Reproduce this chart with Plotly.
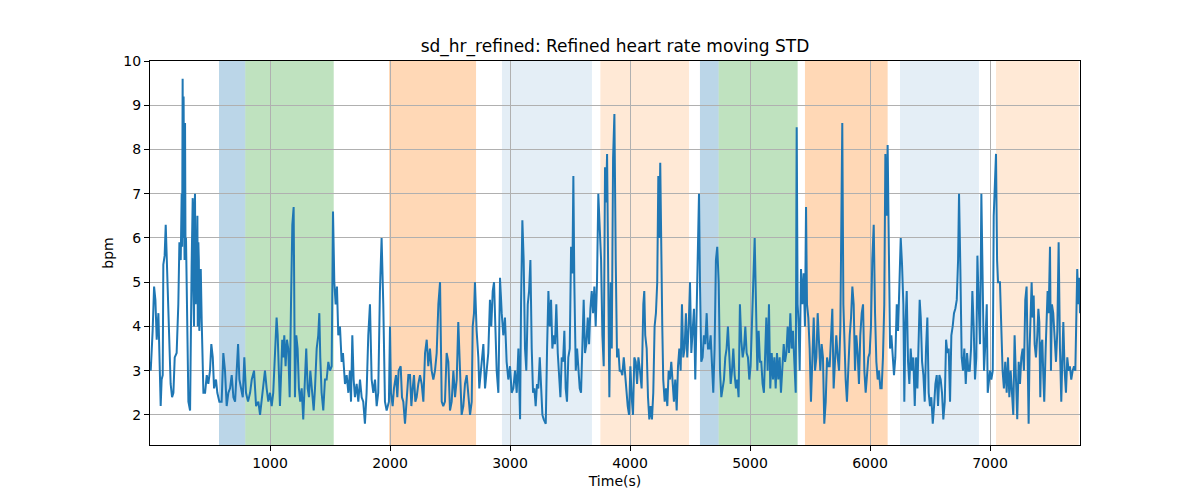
import plotly.graph_objects as go

# ---- data (time in s, moving STD in bpm) ----
time_a = [0,6,22,34,45,56,70,78,89,97,106,111,122,131,139,150,161,172,184,195,206,222,236,245,256,264,268,272,276,280,284,288,292,296,300,320,334,347,356,360,367,370,375,380,389,395,398,403,407,411,423,431,445,459,473,486,500,511,523,534,550,561,578,597,611,625,639,653,667,681,695,709,723,734,745,756,773,786,800,817,834,848,867,884,903,917,931,950]
sd_a = [3.2,3.0,3.9,4.9,4.6,3.7,4.3,3.0,2.2,2.8,2.9,5.4,5.6,6.3,5.6,4.5,3.9,2.7,2.4,2.5,3.3,3.4,4.5,5.9,5.5,7.0,5.8,9.6,6.0,9.2,6.9,5.5,8.6,5.6,6.0,2.3,2.1,5.4,6.9,5.0,4.0,6.5,7.0,4.5,5.3,6.5,4.0,5.9,5.5,3.9,5.3,4.1,2.5,2.5,2.9,2.7,3.0,3.6,3.3,2.6,2.8,2.5,2.3,2.3,3.4,3.0,2.2,2.5,2.6,2.9,2.4,2.3,3.2,3.6,2.8,2.6,2.4,3.3,2.5,2.3,2.5,2.8,3.0,2.2,2.3,2.0,2.4,2.9]

time_b = [958,972,986,1000,1014,1027,1041,1055,1064,1075,1083,1091,1102,1111,1119,1130,1141,1152,1164,1175,1186,1197,1208,1219,1230,1241,1252,1264,1277,1291,1302,1314,1325,1336,1347,1364,1375,1389,1402,1411,1419,1430,1444,1458,1472,1486,1500,1514,1525,1536,1547,1558,1569,1583,1597,1608,1625,1639,1653,1666,1675,1686,1697,1708,1722,1736,1750,1764,1777,1791,1805,1819,1833,1847,1861,1875,1889,1902,1916,1930,1944,1958,1972,1991]
sd_b = [3.0,2.6,2.3,2.5,2.2,2.5,3.2,4.2,3.8,2.6,2.2,2.8,3.7,3.3,3.8,3.1,3.7,3.5,2.4,4.5,6.3,6.7,2.4,3.8,3.5,2.6,2.3,2.6,1.9,2.8,3.5,2.6,2.4,3.0,2.6,2.1,2.6,3.5,3.8,4.3,3.3,2.5,2.1,2.8,2.8,3.2,3.0,3.1,6.6,5.0,4.5,4.9,3.8,4.0,3.2,3.4,2.7,2.9,2.5,3.0,2.3,3.8,2.8,2.4,2.7,2.3,2.8,2.4,2.3,1.8,2.5,3.8,4.5,2.8,2.5,2.8,2.2,2.5,4.8,6.0,4.5,2.3,2.1,2.3]

time_c = [2000,2008,2022,2033,2050,2061,2072,2089,2100,2111,2125,2139,2153,2167,2178,2189,2200,2211,2222,2236,2250,2264,2278,2292,2306,2319,2333,2347,2361,2375,2389,2403,2417,2431,2444,2458,2472,2486,2500,2514,2528,2542,2556,2569,2583,2597,2611,2625,2639,2653,2667,2681,2689,2700,2708,2722,2736,2744,2756,2767,2778,2792,2806,2819,2833,2844,2856,2867,2878,2889,2903,2917,2931,2944,2958,2972,2986,3000,3014,3028]
sd_c = [4.0,2.5,2.2,2.6,2.9,2.4,3.0,3.1,2.4,2.3,1.8,2.4,2.9,2.9,2.2,2.6,2.9,2.3,2.4,2.7,2.9,2.7,2.3,3.4,3.7,3.1,3.5,3.0,2.8,3.0,3.4,4.5,5.0,2.3,2.2,2.3,3.4,3.2,2.1,2.3,3.0,2.4,2.8,4.1,2.8,2.0,2.2,2.7,2.9,2.5,2.0,2.3,4.0,4.3,5.0,3.9,3.3,2.6,3.0,3.2,3.6,2.6,3.0,3.4,4.6,4.0,4.8,5.0,4.0,3.0,2.5,5.1,4.3,3.8,4.2,3.2,2.8,3.1,2.5,2.6]

time_d = [3042,3056,3070,3084,3092,3103,3114,3125,3136,3148,3159,3170,3181,3192,3203,3214,3225,3236,3248,3259,3270,3281,3298,3309,3320,3331,3342,3353,3364,3375,3386,3398,3409,3420,3431,3442,3453,3464,3475,3486,3498,3509,3520,3528,3536,3548,3559,3570,3581,3592,3603,3614,3625,3636,3648,3659,3670,3681,3692,3703,3714,3725,3736,3748,3759,3770,3781,3792,3800,3809,3820,3828,3839,3848,3859,3870,3881,3892,3903,3914,3925,3936,3948,3959,3970,3981,3992,4003,4014,4025,4036,4048,4059,4070]
sd_d = [3.0,2.5,3.5,1.9,4.5,6.4,5.5,3.5,3.0,4.5,4.8,5.5,3.5,2.5,2.6,2.2,2.7,2.6,3.3,2.5,2.0,1.9,1.8,3.5,4.8,4.0,4.6,3.5,3.8,3.6,4.5,3.4,3.0,2.4,3.3,3.2,3.9,2.6,2.3,3.3,3.5,5.8,5.2,7.4,5.0,3.0,3.5,3.1,2.6,2.5,3.4,4.6,3.4,3.6,4.2,3.6,4.4,4.8,4.3,4.9,4.0,5.0,7.0,6.0,5.5,3.8,3.1,7.6,6.8,7.9,4.3,2.4,5.0,3.5,7.8,8.8,5.5,3.3,3.5,3.0,3.0,2.9,3.3,2.9,2.6,2.2,2.0,3.1,2.4,2.0,3.3,3.2,2.7,3.3]

time_e = [4083,4097,4111,4119,4127,4139,4150,4161,4172,4183,4194,4205,4216,4227,4236,4244,4252,4261,4269,4277,4289,4300,4311,4322,4333,4344,4355,4366,4377,4389,4400,4411,4422,4433,4444,4455,4466,4477,4489,4500,4511,4522,4533,4544,4555,4566,4575,4583,4594,4605,4616,4627,4639,4650,4661,4672,4683,4694,4705,4716,4727,4739,4750,4761,4772,4783,4794,4805,4816,4827,4839,4850,4861,4872,4883,4894,4905,4916,4927,4939,4950,4961,4972,4983,4994,5005,5016,5027,5039,5050,5061,5072,5083,5094,5105,5116]
sd_e = [3.0,2.6,4.5,4.8,3.8,3.5,2.4,1.9,2.2,1.9,2.5,4.0,4.3,5.0,7.4,6.0,7.7,5.0,4.0,2.8,2.3,2.6,2.2,3.0,2.8,3.2,2.7,2.3,2.8,2.1,3.1,3.5,3.0,4.5,3.3,3.5,4.3,3.3,4.0,5.0,3.4,3.8,4.4,2.8,4.5,5.7,7.0,5.0,3.2,3.3,3.8,3.6,4.3,3.5,3.5,3.8,3.0,2.5,3.5,5.5,5.8,5.0,3.0,2.4,2.6,2.8,3.3,3.5,4.0,3.2,2.7,3.0,3.5,2.9,2.6,2.8,2.4,4.5,3.7,3.3,3.5,4.0,3.4,3.3,2.8,3.1,4.0,4.8,6.0,4.5,3.0,3.9,3.2,3.2,2.7,2.5]

time_f = [5125,5136,5147,5158,5169,5181,5192,5203,5214,5225,5236,5247,5258,5269,5281,5292,5303,5314,5325,5336,5347,5358,5369,5381,5389,5397,5406,5414,5425,5436,5447,5458,5467,5475,5486,5497,5508,5519,5531,5542,5553,5564,5575,5586,5597,5608,5619,5631,5642,5653,5664,5675,5686,5697,5708,5719,5731,5742,5753,5761,5769,5778,5786,5797,5808,5819,5831,5842,5853,5864,5875,5886,5897,5908,5919,5931,5942,5953,5964,5975,5986,5997,6008,6019,6031,6042,6053,6064,6075,6086,6097,6108,6119,6128,6139,6147,6158]
sd_f = [3.5,4.2,3.0,4.5,2.6,3.4,2.8,3.3,2.6,3.4,2.8,3.3,2.5,3.0,3.6,3.2,3.4,4.0,3.4,4.3,3.5,3.9,3.2,2.5,8.5,4.5,4.0,3.0,5.3,4.5,5.2,4.0,6.7,4.5,4.2,3.5,2.3,3.3,4.2,3.0,3.3,4.3,3.5,3.0,3.6,3.3,1.8,2.3,3.3,3.1,3.1,3.7,4.4,2.6,3.4,3.8,3.3,3.0,4.0,5.8,8.6,4.5,3.5,2.8,2.3,3.2,3.8,4.2,4.9,4.5,3.0,3.8,3.4,2.7,3.8,4.3,4.5,3.0,2.5,2.9,3.3,3.4,4.0,5.5,6.3,4.3,3.2,2.8,3.0,2.6,2.6,3.3,4.5,7.9,6.5,8.1,5.0]

time_g = [6167,6178,6189,6200,6211,6223,6234,6245,6256,6267,6278,6286,6295,6306,6317,6328,6339,6350,6361,6373,6384,6395,6406,6414,6423,6434,6445,6456,6467,6478,6489,6500,6511,6523,6534,6545,6556,6567,6578,6589,6600,6611,6623,6634,6645,6656,6667,6678,6689,6700,6711,6723,6734,6742,6753,6764,6775,6786,6798,6809,6820,6831,6842,6853,6864,6875,6886,6895,6906,6917,6928,6939,6950,6961,6973,6981,6989,7000,7011,7023,7031,7042,7050,7059,7067]
sd_g = [3.5,3.8,3.2,2.9,3.3,4.5,3.9,5.2,6.0,5.4,4.5,2.3,4.0,4.8,3.2,2.7,3.5,3.0,3.3,2.2,3.3,2.6,4.0,4.6,4.2,3.2,2.9,2.3,3.5,4.2,2.5,2.2,2.4,1.8,2.2,2.7,2.9,2.2,2.9,2.8,2.5,1.9,2.3,3.7,3.4,3.5,2.3,3.8,4.0,4.3,4.4,4.6,5.5,7.0,5.3,3.3,3.0,3.5,2.7,3.4,3.0,3.0,3.5,4.8,4.0,2.8,3.3,5.6,4.5,3.6,7.0,5.0,3.0,3.6,4.5,2.5,2.8,3.0,2.8,3.0,6.5,7.6,7.9,5.5,5.0]

time_h = [7083,7094,7105,7116,7127,7139,7150,7161,7172,7183,7194,7205,7216,7227,7239,7250,7261,7272,7283,7294,7305,7316,7322,7330,7339,7347,7355,7364,7372,7383,7394,7403,7411,7419,7427,7436,7444,7452,7464,7472,7480,7489,7500,7508,7516,7527,7539,7550,7561,7572,7583,7594,7603,7611,7622,7633,7644,7655,7666,7677,7689,7700,7711,7719,7727,7736,7744,7750]
sd_h = [5.0,4.0,3.0,2.6,3.2,2.5,3.3,2.4,3.0,2.5,2.0,3.8,2.5,1.9,3.2,2.7,3.3,3.5,3.0,4.6,4.9,2.3,1.8,3.5,4.2,5.0,4.2,4.7,3.6,3.3,3.8,4.4,4.1,2.4,3.6,3.7,2.9,2.3,3.5,4.0,4.8,4.3,5.8,3.0,4.5,4.3,3.7,3.2,3.9,5.9,3.5,2.3,3.3,4.1,3.0,2.5,3.3,3.0,3.1,2.8,3.0,3.1,3.0,4.0,5.3,4.5,5.1,4.3]

# shaded phases
span_starts = [575, 794, 1992, 2933, 3753, 4583, 4739, 5458, 6250, 7050]
span_ends = [794, 1531, 2717, 3683, 4492, 4739, 5397, 6147, 6908, 7740]
span_colors = ["rgba(31,119,180,0.3)", "rgba(44,160,44,0.3)", "rgba(255,127,14,0.3)",
               "rgba(31,119,180,0.12)", "rgba(255,127,14,0.17)",
               "rgba(31,119,180,0.3)", "rgba(44,160,44,0.3)", "rgba(255,127,14,0.3)",
               "rgba(31,119,180,0.12)", "rgba(255,127,14,0.17)"]

x_ticks = [1000, 2000, 3000, 4000, 5000, 6000, 7000]
y_ticks = [2, 3, 4, 5, 6, 7, 8, 9, 10]

time_s = time_a + time_b + time_c + time_d + time_e + time_f + time_g + time_h
sd_hr = sd_a + sd_b + sd_c + sd_d + sd_e + sd_f + sd_g + sd_h
assert len(time_s) == len(sd_hr)

fig = go.Figure()
fig.add_trace(go.Scatter(x=time_s, y=sd_hr, mode="lines",
                         line=dict(color="#1f77b4", width=2), showlegend=False))

for s, e, c in zip(span_starts, span_ends, span_colors):
    fig.add_vrect(x0=s, x1=e, fillcolor=c, line_width=0, layer="below")

font = "DejaVu Sans, Arial, sans-serif"
fig.update_layout(
    width=1184, height=484,
    margin=dict(l=142, r=112, t=53, b=47),
    paper_bgcolor="white", plot_bgcolor="white",
    font=dict(family=font, size=14, color="black"),
    title=dict(text="sd_hr_refined: Refined heart rate moving STD", xref="paper", x=0.5, xanchor="center",
               y=0.921, yanchor="middle", font=dict(size=17)),
)
fig.update_xaxes(range=[0, 7750], tickvals=x_ticks, showgrid=True, gridcolor="#b0b0b0", gridwidth=1,
                 showline=True, linecolor="black", linewidth=1, mirror=True, automargin=False,
                 ticks="outside", ticklen=5, tickcolor="black", zeroline=False,
                 title=dict(text="Time(s)", standoff=6, font=dict(size=14)))
fig.update_yaxes(range=[1.32, 10.0], tickvals=y_ticks, showgrid=True, gridcolor="#b0b0b0", gridwidth=1,
                 showline=True, linecolor="black", linewidth=1, mirror=True, automargin=False,
                 ticks="outside", ticklen=5, tickcolor="black", zeroline=False,
                 title=dict(text="bpm", standoff=6, font=dict(size=14)))

fig.write_html("out.html")
